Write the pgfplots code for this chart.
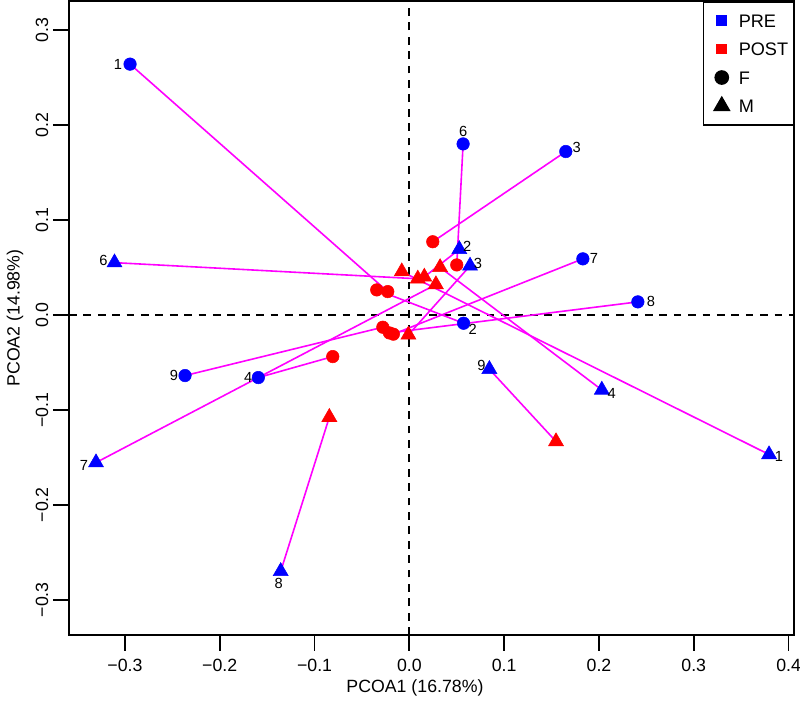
\documentclass[border=0pt]{standalone}
\usepackage{fontspec}
\setmainfont{Liberation Sans}
\usepackage{pgfplots}
\usepackage{pgfplotstable}
\pgfplotsset{compat=1.18}
\usetikzlibrary{calc}

\definecolor{preblue}{RGB}{0,0,255}
\definecolor{postred}{RGB}{255,0,0}
\definecolor{pairline}{RGB}{255,0,255}

% PRE / POST scores per subject, label offsets (pt)
\pgfplotstableread{
id prex    prey    postx   posty   dx    dy
1  -0.2946  0.264  -0.0228  0.0245 -9.0   0.0
2   0.0572 -0.0088 -0.0344  0.0263  6.75 -4.5
3   0.165   0.172   0.0247  0.077   8.25  3.0
4  -0.1593 -0.066  -0.0808 -0.0439 -7.5   0.0
6   0.0567  0.180   0.050   0.0526  0.0   9.0
7   0.183   0.059  -0.0169 -0.0203  8.25  0.0
8   0.241   0.0137 -0.021  -0.019   9.75  0.0
9  -0.2366 -0.0639 -0.028  -0.013  -8.25  0.0
}\femtab

\pgfplotstableread{
id prex    prey    postx   posty   dx    dy
1   0.3794 -0.147  -0.008   0.0456  7.5  -1.5
2   0.0527  0.069   0.0158  0.040   6.0   2.25
3   0.064   0.0516 -0.001  -0.021   6.0   1.5
4   0.203  -0.079   0.0324  0.050   7.5  -3.0
6  -0.311   0.055   0.0089  0.038  -8.25  1.5
7  -0.3305 -0.1555  0.028   0.032  -9.0  -2.25
8  -0.1357 -0.270  -0.0844 -0.1077 -1.5  -9.0
9   0.0844 -0.0572  0.1547 -0.1333 -6.0   3.0
}\maltab

\begin{document}
\begin{tikzpicture}
\begin{axis}[
  scale only axis,
  width=544pt, height=475.5pt,
  xmin=-0.359, xmax=0.406,
  ymin=-0.337, ymax=0.3305,
  axis line style={line width=1.3pt},
  xtick={-0.3,-0.2,-0.1,0,0.1,0.2,0.3,0.4},
  xticklabels={−0.3,−0.2,−0.1,0.0,0.1,0.2,0.3,0.4},
  ytick={-0.3,-0.2,-0.1,0,0.1,0.2,0.3},
  yticklabels={−0.3,−0.2,−0.1,0.0,0.1,0.2,0.3},
  xtick pos=lower, ytick pos=left,
  tick align=outside,
  major tick length=12pt,
  tick style={line width=1.3pt, black},
  ticklabel style={font=\fontsize{13.3pt}{16pt}\selectfont},
  xticklabel style={yshift=-2.8pt},
  yticklabel style={rotate=90, anchor=south},
  xlabel={PCOA1 (16.78\%)},
  ylabel={PCOA2 (14.98\%)},
  label style={font=\fontsize{13.3pt}{16pt}\selectfont},
  xlabel style={at={(axis description cs:0.477,-0.0836)}, anchor=center},
  ylabel style={at={(axis description cs:-0.0745,0.5)}, anchor=center},
  legend style={at={(1,1)}, anchor=north east, draw=black, line width=1.2pt,
    font=\fontsize{13.6pt}{16pt}\selectfont,
    inner xsep=2pt, inner ysep=7pt, row sep=7.4pt,
    nodes={inner sep=2pt, text height=10pt, text depth=0pt}},
  legend cell align=left,
  legend image code/.code={%
    \path[draw=none, fill=none] (0pt,0pt) -- (22.5pt,0pt);
    \draw[#1] plot coordinates {(11.75pt,0pt)};},
]
\addlegendimage{only marks, mark=square*, mark size=3.4pt, color=preblue}
\addlegendimage{only marks, mark=square*, mark size=3.4pt, color=postred}
\addlegendimage{only marks, mark=*, mark size=4.9pt, color=black}
\addlegendimage{only marks, mark=triangle*, mark size=6.5pt, color=black}
\legend{PRE,POST,F,M}

% reference lines at zero
\addplot[black, line width=1.3pt, dash pattern=on 5.8pt off 5pt]
  coordinates {(0,-0.337) (0,0.3305)};
\addplot[black, line width=1.3pt, dash pattern=on 5.8pt off 5pt]
  coordinates {(-0.359,0) (0.406,0)};

% points
\addplot[only marks, mark=*, mark size=4.7pt, color=preblue]
  table[x=prex, y=prey]{\femtab};
\addplot[only marks, mark=*, mark size=4.7pt, color=postred]
  table[x=postx, y=posty]{\femtab};
\addplot[only marks, mark=triangle*, mark size=6.5pt, color=preblue]
  table[x=prex, y=prey]{\maltab};
\addplot[only marks, mark=triangle*, mark size=6.5pt, color=postred]
  table[x=postx, y=posty]{\maltab};

% PRE -> POST segments
\addplot[pairline, line width=1.2pt, mark=none,
  quiver={u=\thisrow{postx}-\thisrow{prex}, v=\thisrow{posty}-\thisrow{prey}}]
  table[x=prex, y=prey]{\femtab};
\addplot[pairline, line width=1.2pt, mark=none,
  quiver={u=\thisrow{postx}-\thisrow{prex}, v=\thisrow{posty}-\thisrow{prey}}]
  table[x=prex, y=prey]{\maltab};

% subject numbers next to PRE points
\addplot[draw=none, mark=none, point meta=explicit symbolic,
  visualization depends on={\thisrow{dx}\as\labdx},
  visualization depends on={\thisrow{dy}\as\labdy},
  nodes near coords,
  nodes near coords style={anchor=center, xshift=\labdx pt, yshift=\labdy pt,
    font=\fontsize{11pt}{13pt}\selectfont, text=black}]
  table[x=prex, y=prey, meta=id]{\femtab};
\addplot[draw=none, mark=none, point meta=explicit symbolic,
  visualization depends on={\thisrow{dx}\as\labdx},
  visualization depends on={\thisrow{dy}\as\labdy},
  nodes near coords,
  nodes near coords style={anchor=center, xshift=\labdx pt, yshift=\labdy pt,
    font=\fontsize{11pt}{13pt}\selectfont, text=black}]
  table[x=prex, y=prey, meta=id]{\maltab};
\end{axis}
\pgfresetboundingbox
\path[use as bounding box]
  ($(current axis.south west)+(-51.75pt,-54.75pt)$)
  rectangle ($(current axis.north east)+(4.3pt,0.75pt)$);
\end{tikzpicture}
\end{document}
